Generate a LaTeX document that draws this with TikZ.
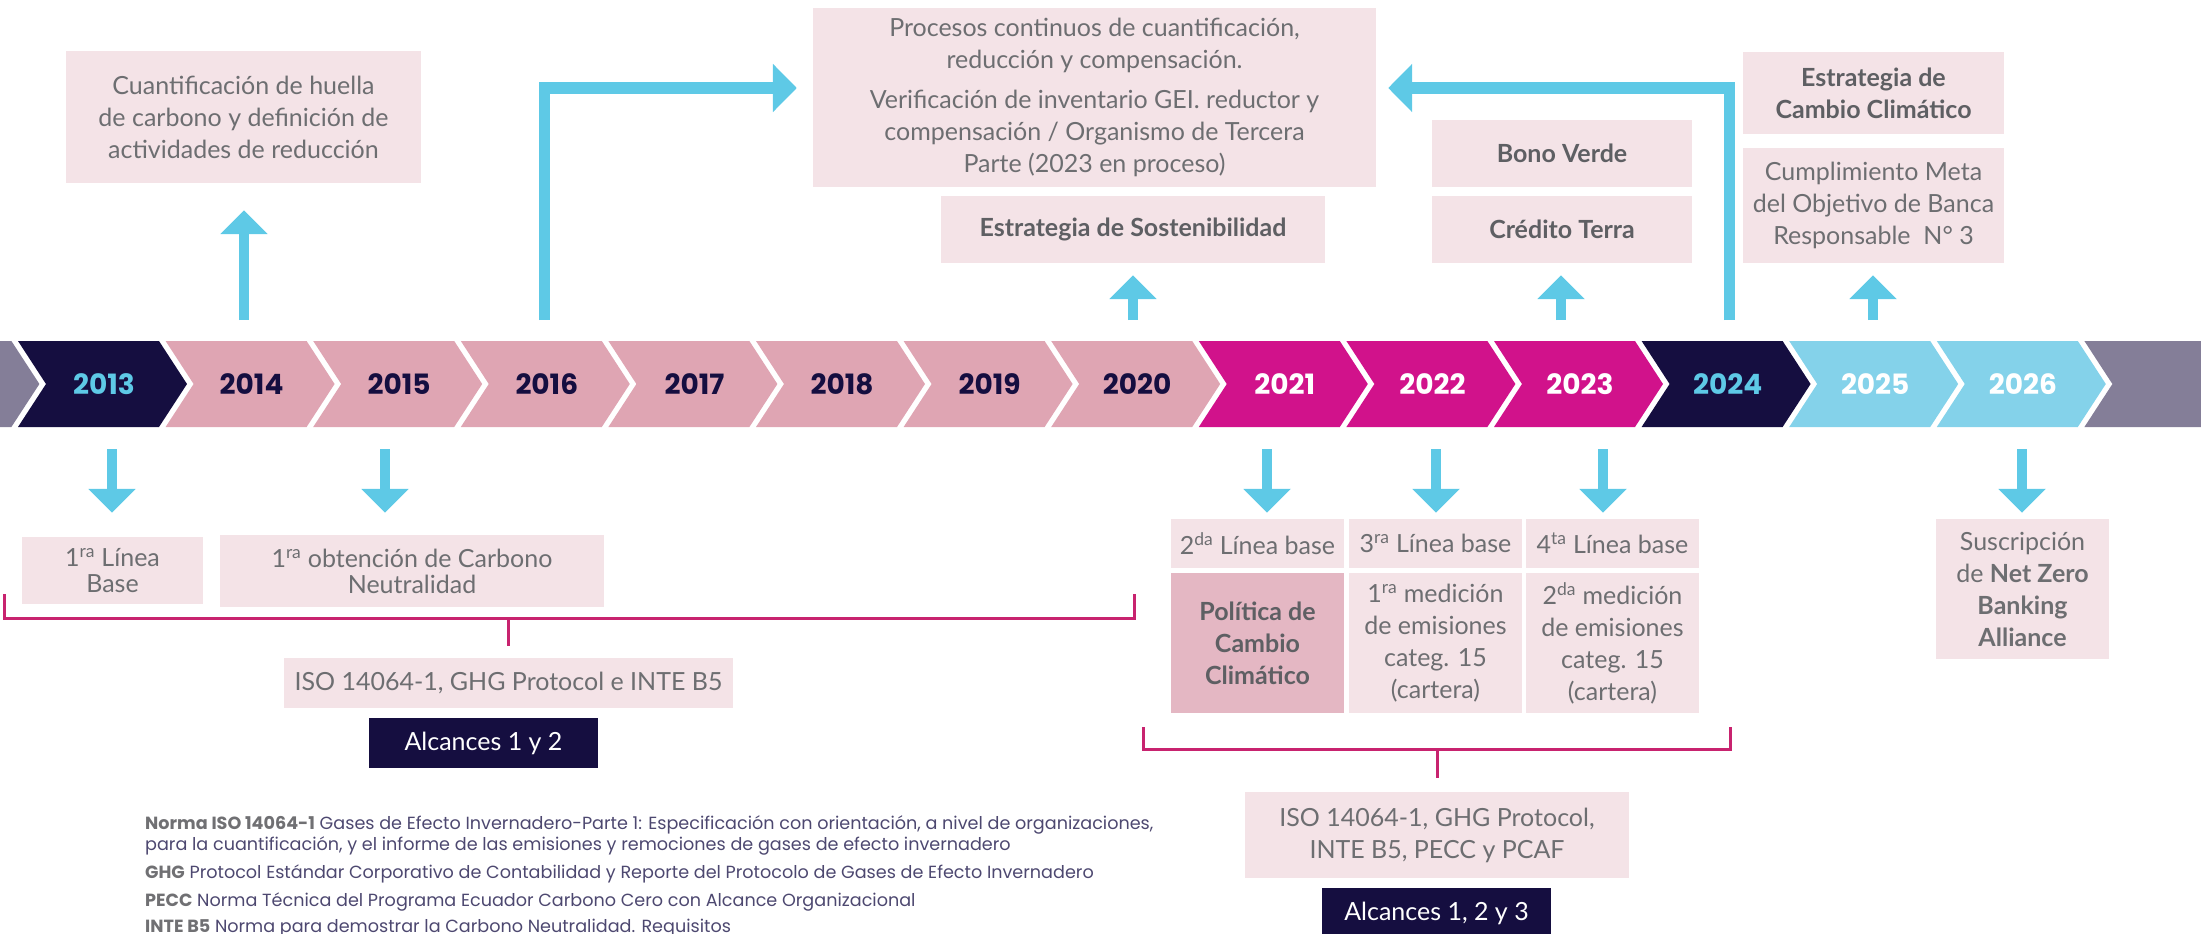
\documentclass[tikz,border=0pt]{standalone}
\usepackage{fontspec}
\setmainfont{Lato}
\newfontfamily\yearfont{Poppins}
\newfontfamily\notefont{Poppins}
\usetikzlibrary{arrows.meta,calc}
\definecolor{BoxPink}{HTML}{F4E3E7}
\definecolor{DeepBoxPink}{HTML}{E4B7C3}
\definecolor{TextGray}{HTML}{6D6E71}
\definecolor{BoldGray}{HTML}{5E5F63}
\definecolor{ArrowCyan}{HTML}{5EC9E6}
\definecolor{NavyBand}{HTML}{150E40}
\definecolor{PinkBand}{HTML}{DFA5B3}
\definecolor{MagentaBand}{HTML}{D1128B}
\definecolor{SkyBand}{HTML}{84D2EA}
\definecolor{GrayBand}{HTML}{847E98}
\definecolor{BracketRed}{HTML}{C8236F}
\definecolor{NoteNavy}{HTML}{4D4870}
\definecolor{NoteGray}{HTML}{707073}
\newcommand\notebold[1]{{\color{NoteGray}\bfseries #1}}

\begin{document}
\begin{tikzpicture}[x=1pt, y=-1pt,
  info/.style    = {fill=BoxPink, text=TextGray, inner sep=0pt, align=center,
                    font=\fontsize{25}{32}\selectfont},
  tight/.style   = {font=\fontsize{25}{26}\selectfont},
  boldinfo/.style= {info, text=BoldGray, font=\fontsize{25}{32}\selectfont\bfseries},
  alc/.style     = {fill=NavyBand, text=white, inner sep=0pt,
                    minimum width=229pt, minimum height=50pt,
                    font=\fontsize{25}{26}\selectfont},
  yearlbl/.style = {font=\yearfont\bfseries\fontsize{28}{28}\selectfont},
  uparr/.style   = {-{Triangle[width=46pt,length=24pt]}, line width=10pt, ArrowCyan},
  bigarr/.style  = {-{Triangle[width=47pt,length=24pt]}, line width=11pt, ArrowCyan},
  brk/.style     = {BracketRed, line width=3pt},
  fnote/.style   = {anchor=west, inner sep=0pt, text=NoteNavy,
                    font=\notefont\fontsize{17.6}{21}\selectfont}
]
  \useasboundingbox (0,0) rectangle (2201,934);
  \clip (0,0) rectangle (2201,934);

  % timeline band
  \fill[GrayBand] (-129.6,341) -- ++(141,0) -- ++(28,43) -- ++(-28,43) -- ++(-141,0) -- cycle;
  \fill[GrayBand] (2084.4,341) -- ++(141,0) -- ++(0,86) -- ++(-141,0) -- ++(28,-43) -- cycle;
  \foreach \i/\yr/\fc/\tc in {0/2013/NavyBand/ArrowCyan, 1/2014/PinkBand/NavyBand,
      2/2015/PinkBand/NavyBand, 3/2016/PinkBand/NavyBand, 4/2017/PinkBand/NavyBand,
      5/2018/PinkBand/NavyBand, 6/2019/PinkBand/NavyBand, 7/2020/PinkBand/NavyBand,
      8/2021/MagentaBand/white, 9/2022/MagentaBand/white, 10/2023/MagentaBand/white,
      11/2024/NavyBand/ArrowCyan, 12/2025/SkyBand/white, 13/2026/SkyBand/white}{
    \pgfmathsetmacro{\lx}{18+147.6*\i}
    \fill[\fc] (\lx,341) -- ++(141,0) -- ++(28,43) -- ++(-28,43) -- ++(-141,0) -- ++(28,-43) -- cycle;
    \node[yearlbl, text=\tc] (y\yr) at (\lx+86,384) {\yr};
  }

  % upper boxes
  \node[info, minimum width=355pt, minimum height=132pt] (cuant) at (243.5,117)
    {Cuantificación de huella\\de carbono y definición de\\actividades de reducción};
  \node[info, minimum width=563pt, minimum height=179pt] (proc) at (1094.5,97.5)
    {Procesos continuos de cuantificación,\\reducción y compensación.\\[8pt]
     Verificación de inventario GEI. reductor y\\compensación / Organismo de Tercera\\Parte (2023 en proceso)};
  \node[boldinfo, minimum width=384pt, minimum height=67pt] (sost) at (1133,229.5)
    {Estrategia de Sostenibilidad};
  \node[boldinfo, minimum width=260pt, minimum height=67pt] (bono) at (1562,153.5) {Bono Verde};
  \node[boldinfo, minimum width=260pt, minimum height=67pt] (terra) at (1562,229.5) {Crédito Terra};
  \node[boldinfo, minimum width=261pt, minimum height=82pt] (estcc) at (1873.5,93)
    {Estrategia de\\Cambio Climático};
  \node[info, minimum width=261pt, minimum height=115pt] (meta) at (1873.5,205.5)
    {Cumplimiento Meta\\del Objetivo de Banca\\Responsable~ N° 3};

  % lower boxes
  \node[info, tight, minimum width=181pt, minimum height=67pt] (lb1) at (112.5,570.5)
    {1\textsuperscript{ra} Línea\\Base};
  \node[info, tight, minimum width=384pt, minimum height=72pt] (obt) at (412,571)
    {1\textsuperscript{ra} obtención de Carbono\\Neutralidad};
  \node[info, minimum width=449pt, minimum height=50pt] (iso1) at (508.5,683)
    {ISO 14064-1, GHG Protocol e INTE B5};
  \node[alc] (alc1) at (483.5,743) {Alcances 1 y 2};

  \node[info, minimum width=173pt, minimum height=49pt] (lb2) at (1257.5,543.5)
    {2\textsuperscript{da} Línea base};
  \node[info, minimum width=173pt, minimum height=49pt] (lb3) at (1435.5,543.5)
    {3\textsuperscript{ra} Línea base};
  \node[info, minimum width=173pt, minimum height=49pt] (lb4) at (1612.5,543.5)
    {4\textsuperscript{ta} Línea base};
  \node[boldinfo, fill=DeepBoxPink, minimum width=173pt, minimum height=140pt] (pol) at (1257.5,643)
    {Política de\\Cambio\\Climático};
  \node[info, minimum width=173pt, minimum height=140pt] (med1) at (1435.5,643)
    {1\textsuperscript{ra} medición\\de emisiones\\categ. 15\\(cartera)};
  \node[info, minimum width=173pt, minimum height=140pt] (med2) at (1612.5,643)
    {2\textsuperscript{da} medición\\de emisiones\\categ. 15\\(cartera)};
  \node[info, minimum width=173pt, minimum height=140pt] (nzba) at (2022.5,589)
    {Suscripción\\de \textbf{Net Zero}\\\textbf{Banking}\\\textbf{Alliance}};
  \node[info, minimum width=384pt, minimum height=86pt] (iso2) at (1437,835)
    {ISO 14064-1, GHG Protocol,\\INTE B5, PECC y PCAF};
  \node[alc] (alc2) at (1436.5,913) {Alcances 1, 2 y 3};

  % arrows up
  \coordinate (b2014) at (244,320);
  \coordinate (b2016) at (544,320);
  \coordinate (b2020) at (1133,320);
  \coordinate (b2023) at (1561,320);
  \coordinate (b2024) at (1729,320);
  \coordinate (b2025) at (1873,320);
  \draw[uparr, shorten >=27pt] (b2014) -- (b2014 |- cuant.south);
  \draw[uparr, shorten >=12pt] (b2020) -- (b2020 |- sost.south);
  \draw[uparr, shorten >=12pt] (b2023) -- (b2023 |- terra.south);
  \draw[uparr, shorten >=12pt] (b2025) -- (b2025 |- meta.south);
  \draw[bigarr, shorten >=16pt] (b2016) |- ([yshift=9.5pt]proc.west);
  \draw[bigarr, shorten >=12pt] (b2024) |- ([yshift=9.5pt]proc.east);

  % arrows down
  \coordinate (d2013) at (112,449);
  \coordinate (d2015) at (385,449);
  \coordinate (d2021) at (1267,449);
  \coordinate (d2022) at (1436,449);
  \coordinate (d2023) at (1603,449);
  \coordinate (d2026) at (2022,449);
  \draw[uparr, shorten >=24pt] (d2013) -- (d2013 |- lb1.north);
  \draw[uparr, shorten >=22pt] (d2015) -- (d2015 |- obt.north);
  \draw[uparr, shorten >=6pt] (d2021) -- (d2021 |- lb2.north);
  \draw[uparr, shorten >=6pt] (d2022) -- (d2022 |- lb3.north);
  \draw[uparr, shorten >=6pt] (d2023) -- (d2023 |- lb4.north);
  \draw[uparr, shorten >=6pt] (d2026) -- (d2026 |- nzba.north);

  % brackets
  \coordinate (k1a) at (4,594);
  \coordinate (k1b) at (1134,594);
  \draw[brk] (k1a) -- ++(0,24) -| (k1b);
  \draw[brk] ([yshift=12pt]iso1.north) -- ++(0,-28);
  \coordinate (k2a) at (1143,727);
  \coordinate (k2b) at (1730,727);
  \draw[brk] (k2a) -- ++(0,22) -| (k2b);
  \draw[brk] ([yshift=14pt]iso2.north) -- ++(0,-29);

  % notes
  \node[fnote] (fn1) at (145,825) {\notebold{Norma ISO 14064-1} Gases de Efecto Invernadero-Parte 1: Especificación con orientación, a nivel de organizaciones,};
  \node[fnote] (fn2) at (145,846) {para la cuantificación, y el informe de las emisiones y remociones de gases de efecto invernadero};
  \node[fnote] (fn3) at (145,874) {\notebold{GHG} Protocol Estándar Corporativo de Contabilidad y Reporte del Protocolo de Gases de Efecto Invernadero};
  \node[fnote] (fn4) at (145,902) {\notebold{PECC} Norma Técnica del Programa Ecuador Carbono Cero con Alcance Organizacional};
  \node[fnote] (fn5) at (145,928) {\notebold{INTE B5} Norma para demostrar la Carbono Neutralidad. Requisitos};
\end{tikzpicture}
\end{document}
